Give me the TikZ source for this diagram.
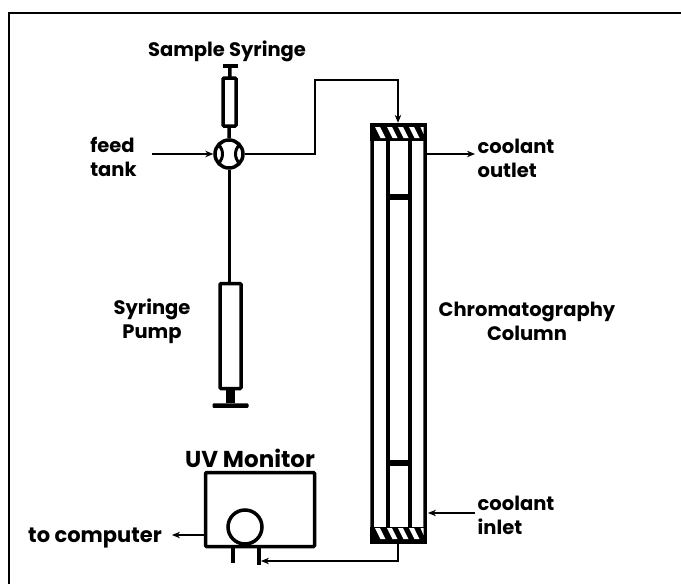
\documentclass[tikz,border=0pt]{standalone}
\usepackage{fontspec}
\setmainfont{Poppins}
\usetikzlibrary{arrows.meta,calc,positioning}
\tikzstyle{element}=[
  draw=black,
  line width=3.5pt,
  inner sep=0pt,
  outer sep=0pt,
  rectangle,
  rounded corners=1pt,
]
\tikzstyle{plug}=[
  fill=black,
  inner sep=0pt,
  minimum width=22pt,
  minimum height=6.5pt,
]
\tikzstyle{arrow}=[
  draw=black,
  line width=1.2pt,
]
\tikzstyle{thickline}=[
  draw=black,
  line width=3.5pt,
]
\tikzstyle{arrowlabel}=[
  font={\fontsize{19.5}{24}\selectfont\bfseries},
  inner sep=0pt,
  align=left,
]
\tikzset{
  >={Stealth[length=8pt,width=6.5pt]},
}

\begin{document}
\begin{tikzpicture}[x=1pt,y=-1pt]
      \useasboundingbox (0,0) rectangle (681,584);
      \coordinate (FA) at (9,584);
      \coordinate (FB) at (9,13);
      \coordinate (FC) at (681,13);
      \draw [line width=2.5pt] (FA) -- (FB) -- (FC);
      %%
      \node (sampletop) [fill=black, minimum width=15pt, minimum height=3.5pt, inner sep=0pt] at (230,66) {};
      \node (samplebody) [element, minimum width=13pt, minimum height=48pt] at (229.5,102) {};
      \node (valve) [circle, draw=black, line width=3.5pt, minimum size=28pt, inner sep=0pt] at (229,154) {};
      \node (pumpbody) [element, minimum width=21pt, minimum height=105pt] at (230.5,336) {};
      \node (pumpfoot) [fill=black, rounded corners=1pt, minimum width=36pt, minimum height=4.5pt, inner sep=0pt] at (230.5,405.5) {};
      \draw [thickline] (sampletop) -- (samplebody);
      \draw [thickline] (samplebody) -- (valve);
      \draw [line width=3pt] (valve) -- (pumpbody.north-|valve);
      \draw [line width=9pt] (pumpbody.south) -- (pumpfoot.north);
      \draw [line width=3pt] (218,144) .. controls (224,150) and (224,158) .. (218,164);
      \draw [line width=3pt] (240,144) .. controls (234,150) and (234,158) .. (240,164);
      %%
      \node (column) [element, minimum width=53pt, minimum height=416pt] at (398.5,333) {};
      \node (captop) [fill=black, minimum width=57pt, minimum height=18pt, inner sep=0pt] at (398.5,132) {};
      \node (capbot) [fill=black, minimum width=57pt, minimum height=17pt, inner sep=0pt] at (398.5,535) {};
      \foreach \ya/\yb in {127/138,528/539} {
        \foreach \xa in {375,387,398,409}
          \fill [white] (\xa,\ya) -- (\xa+5,\ya) -- (\xa+10.5,\yb) -- (\xa+5.5,\yb) -- cycle;
        \fill [white] (420.5,\ya) -- (423.5,\ya) -- (423.5,\ya+7) -- cycle;
      }
      \coordinate (walla) at (388,141);
      \coordinate (wallb) at (410,141);
      \coordinate (wallc) at (388,527);
      \coordinate (walld) at (410,527);
      \draw [thickline] (walla) -- (wallc);
      \draw [thickline] (wallb) -- (walld);
      \node (plugA) [plug] at (399,197) {};
      \node (plugB) [plug] at (399,463) {};
      %%
      \node (uvbox) [element, minimum width=109pt, minimum height=74pt] at (260,509.5) {};
      \node (uvcell) [circle, draw=black, line width=3.5pt, minimum size=34pt, inner sep=0pt] at (245,527) {};
      \coordinate (legA) at (233,563);
      \coordinate (legB) at (259,565);
      \draw [thickline] (legA|-uvcell.south) -- (legA);
      \draw [thickline] (legB|-uvcell.south) -- (legB);
      %%
      \node (sampletext) [arrowlabel] at (227,51) {Sample Syringe};
      \node (feedtext) [arrowlabel] at (113.5,157) {feed\\tank};
      \node (pumptext) [arrowlabel, align=center] at (152,321) {Syringe\\Pump};
      \node (columntext) [arrowlabel, align=center] at (527,321) {Chromatography\\Column};
      \node (outlettext) [arrowlabel] at (516,158) {coolant\\outlet};
      \node (inlettext) [arrowlabel] at (516,515) {coolant\\inlet};
      \node (uvtext) [arrowlabel, font={\fontsize{23}{24}\selectfont\bfseries}] at (250,458) {UV Monitor};
      \node (computertext) [arrowlabel, font={\fontsize{21}{24}\selectfont\bfseries}] at (95,538) {to computer};
      %%
      \coordinate (feedend) at (152,154);
      \coordinate (bendA) at (315,154);
      \coordinate (bendB) at (315,80);
      \coordinate (bendC) at (398,80);
      \coordinate (outletstart) at (427,154);
      \coordinate (outletend) at (475,154);
      \coordinate (inletstart) at (475,513);
      \coordinate (inletend) at (428,513);
      \coordinate (computerstart) at (205,535);
      \coordinate (computerend) at (172,535);
      \coordinate (bendD) at (398,561);
      \coordinate (bottomend) at (261,561);
      \draw [->, arrow] (feedend) -- (valve.west);
      \draw [->, arrow] (valve.east) -- (bendA) -- (bendB) -- (bendC) -- (bendC|-captop.north);
      \draw [->, arrow] (outletstart) -- (outletend);
      \draw [->, arrow] (inletstart) -- (inletend);
      \draw [->, arrow] (computerstart) -- (computerend);
      \draw [->, arrow] (bendD|-capbot.south) -- (bendD) -- (bottomend);
    \end{tikzpicture}
\end{document}
